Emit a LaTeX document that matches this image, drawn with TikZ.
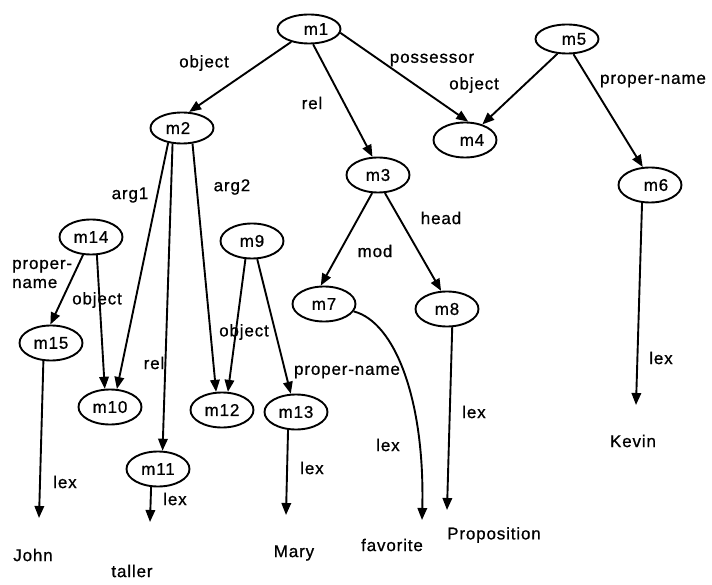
\documentclass[tikz,border=0pt]{standalone}
\usepackage{fontspec}
\setmainfont{Liberation Sans}[LetterSpace=5, FakeBold=0.8]
\usetikzlibrary{shapes.geometric,arrows.meta}

% shift a node's text right (positive) or left (negative) inside its ellipse
\newcommand{\offr}[2]{\hspace*{#1}#2}
\newcommand{\offl}[2]{#2\hspace*{#1}}

\tikzset{
  nd/.style={draw, ellipse, line width=1.9pt, minimum width=63pt, minimum height=35pt,
             inner sep=0pt, font=\fontsize{17}{19}\selectfont},
  flat/.style={nd, minimum height=29pt},
  lbl/.style={inner sep=0pt, font=\fontsize{17}{19}\selectfont},
  word/.style={inner sep=0pt, font=\fontsize{17}{19}\selectfont},
  arc/.style={line width=1.9pt, -{Triangle[length=12pt,width=9.5pt]}},
}

\begin{document}
\begin{tikzpicture}[x=1pt, y=-1pt]
\useasboundingbox (0,0) rectangle (712,585);

% propositional nodes
\node[flat] (m1)  at (309,29)  {\offr{14pt}{m1}};
\node[nd, minimum height=31pt] (m2)  at (182,128) {\offl{8pt}{m2}};
\node[nd]   (m3)  at (378,175) {m3};
\node[nd]   (m4)  at (465,140) {\offr{14pt}{m4}};
\node[flat] (m5)  at (567,39)  {\offr{14pt}{m5}};
\node[nd]   (m6)  at (650,185) {\offr{12pt}{m6}};
\node[nd]   (m7)  at (324,304) {m7};
\node[nd]   (m8)  at (447,309) {m8};
\node[nd]   (m9)  at (252,241) {m9};
\node[nd]   (m10) at (110,407) {m10};
\node[nd]   (m11) at (158,469) {m11};
\node[nd]   (m12) at (222,410) {m12};
\node[nd]   (m13) at (296,412) {m13};
\node[nd]   (m14) at (91,237)  {m14};
\node[nd]   (m15) at (51,343)  {m15};

% lexical items
\node[word] (john)  at (33,555)  {John};
\node[word] (taller) at (132,571) {taller};
\node[word] (mary)  at (294,553) {Mary};
\node[word] (fav)   at (392,545) {favorite};
\node[word] (prop)  at (494,535) {Proposition};
\node[word] (kevin) at (633,441) {Kevin};

% ends of the lex arcs
\coordinate (tjohn)  at (39,518);
\coordinate (ttaller) at (150,522);
\coordinate (tmary)  at (286,515);
\coordinate (tfav)   at (422,520);
\coordinate (tprop)  at (447,510);
\coordinate (tkevin) at (636,405);

% arcs between nodes
\draw[arc] (m1.216)  -- (m2.66);
\draw[arc] (m1.-75)  -- (m3.107);
\draw[arc] (m1.-7)   -- (m4.80);
\draw[arc] (m5.-123) -- (m4.42);
\draw[arc] (m5.-67)  -- (m6.112);
\draw[arc] (m2.-133) -- (m10.69);
\draw[arc] (m2.-121) -- (m11.76);
\draw[arc] (m2.-56)  -- (m12.108);
\draw[arc] (m14.-114) -- (m15.92);
\draw[arc] (m14.-72) -- (m10.106);
\draw[arc] (m9.-110) -- (m12.72);
\draw[arc] (m9.-74)  -- (m13.106);
\draw[arc] (m3.-108) -- (m7.100);
\draw[arc] (m3.-69)  -- (m8.108);

% lex arcs
\draw[arc] (m15.-113) -- (tjohn);
\draw[arc] (m11.-111) -- (ttaller);
\draw[arc] (m13.-114) -- (tmary);
\draw[arc] (m7.-14) .. controls (395,322) and (425,400) .. (tfav);
\draw[arc] (m8.-74)  -- (tprop);
\draw[arc] (m6.-114) -- (tkevin);

% arc labels
\node[lbl] (lobj1) at (204,63)  {object};
\node[lbl] (lrel1) at (312,103) {rel};
\node[lbl] (lpos)  at (432,60)  {possessor};
\node[lbl] (lobj2) at (474,85)  {object};
\node[lbl] (lpn1)  at (653,81)  {proper-name};
\node[lbl] (larg1) at (130,195) {arg1};
\node[lbl] (larg2) at (232,187) {arg2};
\node[lbl] (lrel2) at (154,363) {rel};
\node[lbl, anchor=west, align=left] (lpn2) at (12,274) {proper-\\name};
\node[lbl] (lobj3) at (97,300)  {object};
\node[lbl] (lobj4) at (244,332) {object};
\node[lbl] (lpn3)  at (347,372) {proper-name};
\node[lbl] (lmod)  at (375,251) {mod};
\node[lbl] (lhead) at (441,218) {head};
\node[lbl] (llex1) at (65,482)  {lex};
\node[lbl] (llex2) at (175,499) {lex};
\node[lbl] (llex3) at (312,468) {lex};
\node[lbl] (llex4) at (388,445) {lex};
\node[lbl] (llex5) at (474,412) {lex};
\node[lbl] (llex6) at (661,358) {lex};
\end{tikzpicture}
\end{document}
